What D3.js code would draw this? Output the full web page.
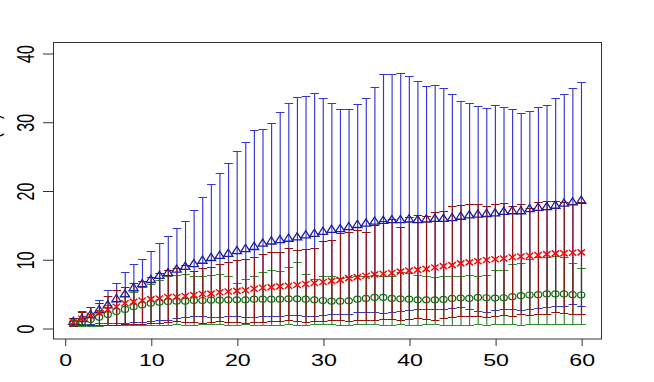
<!DOCTYPE html>
<html>
<head>
<meta charset="utf-8">
<script src="https://cdn.jsdelivr.net/npm/d3@7"></script>
<style>
  body { margin: 0; background: #fff; }
  svg { display: block; }
  text { font-family: "Liberation Sans", Arial, sans-serif; fill: #000; }
</style>
</head>
<body>
<svg></svg>
<script>
// time points 1..60
var xVals = d3.range(1, 61);
var xTicks = [0, 10, 20, 30, 40, 50, 60];
var yTicks = [0, 10, 20, 30, 40];

// blue series (triangles)
var blueMean = [0.9,1.3,1.9,2.6,3.3,4.2,4.9,5.8,6.4,7.0, 7.6,8.0,8.5,8.9,9.3,9.8,10.2,10.5,10.8,11.2,
  11.5,11.8,12.3,12.6,12.8,13.0,13.2,13.5,13.7,14.0, 14.3,14.4,14.7,15.0,15.2,15.5,15.6,15.7,15.7,15.8,
  15.7,15.8,15.9,15.9,16.0,16.2,16.4,16.5,16.6,16.7, 16.9,17.0,17.0,17.3,17.5,17.6,17.8,18.1,18.3,18.5];
var blueUpper = [1.4,2.5,3.1,4.1,5.5,6.6,8.1,9.3,10.1,11.2, 12.4,13.4,14.5,15.5,17.1,19.0,21.0,22.5,24.0,25.7,
  27.0,28.8,29.0,29.8,31.4,32.8,33.6,33.7,34.2,33.5, 32.7,31.9,31.8,32.6,33.5,35.1,36.9,37.0,37.1,36.7,
  36.0,35.2,35.3,34.9,34.1,33.0,32.7,32.3,32.0,32.5, 32.2,31.9,31.3,31.6,32.2,32.5,33.4,34.1,34.9,35.8];
var blueLower = [0.5,0.6,0.6,0.7,0.7,0.8,0.8,0.9,0.9,1.0, 1.1,1.2,1.4,1.6,1.7,1.7,1.6,1.6,1.7,1.7,
  1.6,1.6,1.8,1.7,1.8,1.9,1.9,1.8,1.8,1.9, 2.0,2.1,2.1,2.4,2.3,2.3,2.2,2.3,2.5,2.6,
  2.7,2.8,2.7,2.7,2.9,3.0,2.7,2.5,2.4,2.6, 2.7,2.8,2.6,2.8,2.9,3.0,3.2,3.2,3.5,3.2];

// red series (crosses)
var redMean = [0.8,1.35,1.75,2.2,2.7,3.1,3.6,3.8,4.0,4.2, 4.3,4.5,4.5,4.65,4.8,4.95,5.0,5.2,5.3,5.4,
  5.5,5.7,5.85,5.95,6.05,6.15,6.25,6.4,6.55,6.7, 6.85,7.0,7.25,7.4,7.6,7.8,7.9,8.0,8.2,8.35,
  8.45,8.6,8.8,9.0,9.15,9.4,9.55,9.7,9.9,10.0, 10.1,10.3,10.4,10.5,10.6,10.75,10.85,10.85,10.95,11.0];
var redUpper = [1.4,2.4,3.0,3.7,4.6,5.5,6.0,6.5,6.9,7.4, 8.0,8.5,8.8,9.1,8.3,8.7,8.9,9.3,9.6,9.9,
  10.0,10.4,10.8,11.0,11.1,11.6,11.3,11.5,11.7,12.6, 12.8,13.8,13.9,14.3,13.9,15.0,15.5,15.8,14.7,16.2,
  16.4,16.3,16.9,17.0,17.7,17.9,18.0,18.1,17.7,18.0, 18.2,17.8,18.0,17.5,18.3,18.5,18.5,18.3,18.1,18.4];
var redLower = [0.3,0.4,0.4,0.5,0.5,0.5,0.6,0.6,0.6,0.7, 0.8,0.9,1.0,0.9,0.9,0.8,0.9,1.0,0.9,0.9,
  0.8,0.9,0.9,1.0,1.0,1.1,1.0,0.9,1.0,1.0, 1.1,1.1,1.0,1.2,1.1,1.2,1.3,1.3,1.2,1.3,
  1.4,1.3,1.2,1.5,1.6,1.8,1.7,1.7,1.6,1.8, 1.9,1.7,2.0,1.9,2.1,2.0,2.3,2.2,2.1,2.1];

// green series (circles)
var greenMean = [0.7,0.9,1.25,1.55,1.95,2.4,2.7,3.1,3.35,3.6, 3.75,3.85,3.9,3.9,4.0,4.0,4.05,4.05,4.1,4.1,
  4.1,4.2,4.2,4.2,4.2,4.25,4.25,4.2,4.1,4.0, 3.9,3.9,3.95,4.2,4.3,4.45,4.45,4.3,4.25,4.2,
  4.1,4.1,4.1,4.15,4.3,4.35,4.3,4.45,4.4,4.35, 4.4,4.55,4.7,4.8,4.85,4.95,4.95,4.95,4.85,4.8];
var greenUpper = [1.0,1.5,2.0,2.6,3.3,3.9,4.7,5.3,5.9,6.4, 7.0,7.6,7.7,7.8,7.6,7.6,7.7,7.9,7.5,6.6,
  7.2,7.6,8.2,8.4,8.3,8.9,9.6,7.9,7.1,7.6, 7.5,7.3,7.4,7.6,7.5,7.7,7.6,7.5,8.2,8.0,
  7.7,7.5,7.4,7.6,7.5,7.5,7.7,7.5,7.7,8.5, 8.5,9.3,9.5,10.0,10.3,10.4,10.5,10.4,9.5,8.8];
var greenLower = [0.3,0.3,0.35,0.35,0.4,0.4,0.4,0.45,0.45,0.5, 0.5,0.5,0.55,0.5,0.5,0.55,0.6,0.55,0.5,0.5,
  0.55,0.5,0.5,0.45,0.5,0.55,0.5,0.5,0.55,0.6, 0.55,0.5,0.5,0.55,0.6,0.55,0.5,0.5,0.55,0.5,
  0.5,0.55,0.6,0.5,0.5,0.45,0.5,0.55,0.5,0.6, 0.6,0.55,0.5,0.6,0.6,0.55,0.6,0.6,0.55,0.6];

var width = 654;
var height = 382;
var sx = 1.45; // the picture is stretched sideways, text too

var svg = d3.select('svg').attr('width', width).attr('height', height);

var xScale = d3.scaleLinear().domain([-1.36, 62.36]).range([53, 601.5]);
var yScale = d3.scaleLinear().domain([-1.6, 41.6]).range([339, 42]);

function rows(mean, lo, hi) {
  return xVals.map(function(d, i) { return { x: d, m: mean[i], lo: lo[i], hi: hi[i] }; });
}

var series = [
  { key: 'blue', data: rows(blueMean, blueLower, blueUpper), bar: '#3535d2' },
  { key: 'green', data: rows(greenMean, greenLower, greenUpper), bar: '#2e8b2e' },
  { key: 'red', data: rows(redMean, redLower, redUpper), bar: '#960f0f' }
];

var cap = 4.3;

// error bars
series.forEach(function(s) {
  var g = svg.append('g').attr('class', 'bars-' + s.key)
    .attr('stroke', s.bar).attr('stroke-width', 1.15).attr('fill', 'none');
  g.selectAll('path').data(s.data).enter().append('path')
    .attr('d', function(d) {
      var cx = xScale(d.x) + 0.3, y1 = Math.round(yScale(d.hi)) + 0.5, y0 = Math.round(yScale(d.lo)) + 0.5;
      return 'M' + cx + ',' + y0 + 'V' + y1 +
        'M' + (cx - cap) + ',' + y1 + 'H' + (cx + cap) +
        'M' + (cx - cap) + ',' + y0 + 'H' + (cx + cap);
    });
});

// markers
svg.append('g').selectAll('path').data(series[0].data).enter().append('path')
  .attr('transform', function(d) { return 'translate(' + xScale(d.x) + ',' + yScale(d.m) + ')'; })
  .attr('d', 'M-4.6,2.6L4.6,2.6L0,-4.6Z')
  .attr('fill', 'none').attr('stroke', '#1c1ca4').attr('stroke-width', 1.3);

svg.append('g').selectAll('ellipse').data(series[1].data).enter().append('ellipse')
  .attr('cx', function(d) { return xScale(d.x); })
  .attr('cy', function(d) { return yScale(d.m); })
  .attr('rx', 3.6).attr('ry', 3.0)
  .attr('fill', 'none').attr('stroke', '#0e6e0e').attr('stroke-width', 1.2);

svg.append('g').selectAll('path').data(series[2].data).enter().append('path')
  .attr('transform', function(d) { return 'translate(' + xScale(d.x) + ',' + yScale(d.m) + ')'; })
  .attr('d', 'M-3.7,-3L3.7,3M-3.7,3L3.7,-3')
  .attr('stroke', '#ff0000').attr('stroke-width', 1.4);

// box
svg.append('rect')
  .attr('x', 53.5).attr('y', 42.5).attr('width', 548).attr('height', 296.5)
  .attr('fill', 'none').attr('stroke', '#333').attr('stroke-width', 1);

// x axis
var xAxis = svg.append('g')
  .attr('class', 'x-axis')
  .attr('transform', 'translate(0.5, 339)')
  .call(d3.axisBottom(xScale).tickValues(xTicks).tickSize(7).tickSizeOuter(0));
xAxis.select('.domain').remove();
xAxis.selectAll('line').attr('stroke', '#333');
xAxis.selectAll('text')
  .attr('font-size', 16).attr('dy', 0).attr('y', 27)
  .attr('transform', 'scale(' + sx + ',1)')
  .style('font-family', '"Liberation Sans", Arial, sans-serif');

// y axis
var yAxis = svg.append('g')
  .attr('class', 'y-axis')
  .attr('transform', 'translate(53, 0.5)')
  .call(d3.axisLeft(yScale).tickValues(yTicks).tickSize(10).tickSizeOuter(0));
yAxis.select('.domain').remove();
yAxis.selectAll('line').attr('stroke', '#333');
yAxis.selectAll('text')
  .attr('font-size', 16).attr('x', null).attr('dy', null).attr('text-anchor', 'middle')
  .attr('transform', 'translate(-19,0) scale(' + sx + ',1) rotate(-90)')
  .style('font-family', '"Liberation Sans", Arial, sans-serif');

// y label, mostly outside the picture as in the original
svg.append('text')
  .attr('text-anchor', 'middle')
  .attr('font-size', 16)
  .attr('transform', 'translate(-1,' + (42 + 339) / 2 + ') scale(' + sx + ',1) rotate(-90)')
  .text('Cumulative mean (%)');
</script>
</body>
</html>
